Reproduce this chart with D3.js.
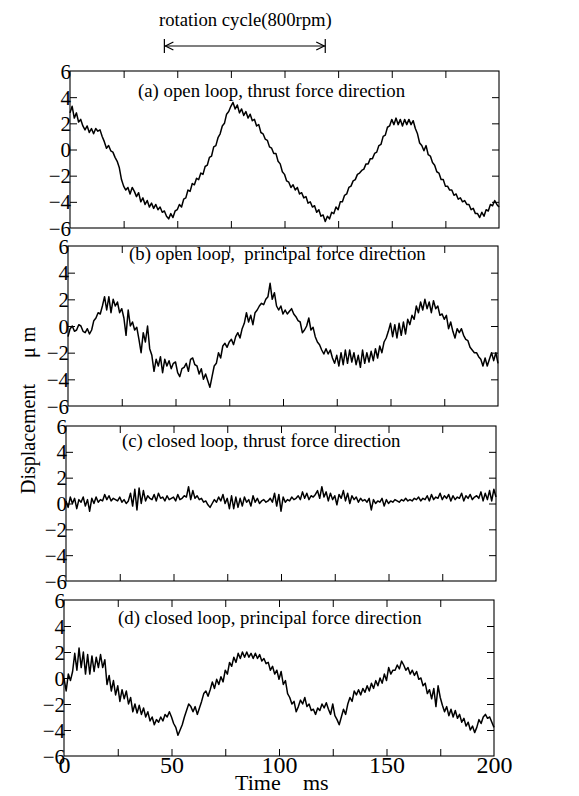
<!DOCTYPE html>
<html>
<head>
<meta charset="utf-8">
<script src="https://cdn.jsdelivr.net/npm/d3@7"></script>
<style>
  body { margin: 0; background: #fff; }
  svg { font-family: "Liberation Serif", "Times New Roman", serif; }
</style>
</head>
<body>
<div class="mainChart"></div>
<script>
// displacement samples, one per ms (0..200 ms), in micrometres
const openThrust = [
  2.8,3.3,2.4,2.8,2.1,2.3,1.8,1.5,1.8,1.3,1.6,1.2,1.6,1.4,1.5,1.0,0.6,0.1,0.3,-0.1,
  -0.2,-0.6,-0.9,-1.4,-2.3,-2.8,-3.1,-2.9,-3.4,-2.9,-3.2,-3.6,-3.3,-4.0,-3.7,-4.2,-3.9,-4.4,-4.1,-4.5,
  -4.2,-4.6,-4.4,-4.8,-4.7,-5.1,-5.3,-4.9,-5.2,-4.7,-4.6,-4.2,-4.4,-3.8,-3.7,-3.1,-3.2,-2.6,-2.7,-2.2,
  -2.3,-1.8,-1.9,-1.3,-1.2,-0.6,-0.5,0.2,0.3,0.9,1.2,1.8,2.0,2.7,2.9,3.3,3.6,3.1,3.4,2.8,
  3.1,2.6,2.9,2.4,2.7,2.2,2.3,1.8,1.9,1.3,1.2,0.8,0.7,0.2,0.1,-0.3,-0.3,-0.9,-1.1,-1.7,
  -1.9,-2.4,-2.5,-2.9,-2.7,-3.1,-2.9,-3.4,-3.3,-3.7,-3.6,-4.1,-4.0,-4.4,-4.3,-4.8,-4.6,-5.1,-5.0,-5.5,
  -5.1,-5.3,-4.8,-4.9,-4.4,-4.6,-4.0,-4.0,-3.5,-3.4,-2.9,-2.8,-2.4,-2.3,-1.9,-1.8,-1.6,-1.5,-1.1,-1.1,
  -0.7,-0.7,-0.3,-0.2,0.3,0.4,1.0,1.1,1.7,1.8,2.3,1.9,2.4,1.9,2.3,1.8,2.3,1.9,2.3,1.9,
  2.2,1.6,1.2,0.5,0.3,-0.1,0.3,-0.4,-0.5,-1.0,-1.2,-1.7,-1.8,-2.3,-2.3,-2.8,-2.8,-3.1,-3.1,-3.5,
  -3.4,-3.8,-3.7,-4.0,-3.9,-4.2,-4.2,-4.6,-4.5,-4.9,-4.9,-5.2,-4.8,-5.1,-4.6,-4.7,-4.2,-4.3,-3.9,-4.2,-4.4
];
const openPrincipal = [
  -0.8,-0.2,0.0,-0.4,-0.3,0.1,0.0,-0.4,-0.5,-0.2,-0.6,-0.3,0.4,0.6,1.0,0.9,1.5,2.2,1.2,2.2,
  1.0,2.0,1.5,1.8,1.0,1.3,0.6,-0.7,1.2,0.0,0.3,-0.3,-0.1,-1.0,-2.0,-0.5,-1.2,0.0,-1.7,-2.2,
  -3.4,-2.5,-3.0,-2.3,-3.5,-2.5,-3.0,-2.6,-3.2,-2.8,-2.7,-3.5,-3.8,-3.2,-3.1,-2.8,-3.4,-2.5,-2.4,-2.9,
  -3.0,-3.6,-3.2,-4.0,-3.6,-4.1,-4.6,-3.8,-3.0,-2.8,-2.0,-2.4,-1.5,-1.3,-1.6,-1.2,-1.0,-1.4,-0.8,-0.5,
  -0.9,-0.2,0.2,1.0,0.3,0.8,0.1,1.0,1.2,1.5,1.7,1.6,2.0,2.2,3.2,2.0,2.5,1.5,1.2,1.5,
  0.9,1.2,0.9,1.1,1.3,0.9,0.7,0.4,0.3,-0.5,-0.3,0.0,0.6,-0.3,-0.1,-0.8,-1.2,-1.4,-1.8,-2.1,
  -1.7,-2.1,-1.8,-2.4,-2.8,-2.2,-3.0,-2.0,-2.9,-1.8,-2.8,-1.8,-2.7,-2.0,-2.9,-2.2,-3.1,-1.8,-2.8,-2.0,
  -2.7,-1.9,-2.6,-1.7,-2.4,-1.5,-2.0,-1.2,-0.9,-0.4,0.2,-0.8,0.1,-0.9,0.2,-0.7,0.3,-0.6,0.5,0.1,
  0.8,0.5,1.5,1.0,1.8,1.2,2.0,1.3,1.8,1.0,1.9,1.3,1.5,0.8,0.9,0.5,0.8,-0.2,0.3,-0.4,
  -0.9,-0.2,-0.5,-0.2,-0.7,-1.0,-1.1,-1.6,-1.8,-2.0,-2.0,-2.3,-2.5,-3.0,-2.4,-3.0,-2.5,-2.0,-2.6,-2.0,-2.8
];
const closedThrust = [
  0.2,-0.3,0.5,0.0,0.4,-0.4,0.3,0.1,0.5,-0.2,0.3,-0.6,0.4,0.0,0.5,0.1,0.3,0.2,0.7,0.3,
  0.6,0.2,0.4,0.3,0.2,0.5,0.1,0.3,0.0,0.2,0.8,-0.2,1.1,-0.5,1.2,0.0,1.0,0.2,0.6,0.4,
  0.3,0.7,0.2,0.8,0.4,0.5,0.2,0.6,0.3,0.4,0.5,0.2,0.7,0.3,0.4,0.6,0.5,1.3,0.3,1.0,
  0.4,0.6,0.3,0.4,0.1,0.2,-0.1,-0.3,0.0,0.3,0.1,0.5,0.2,0.7,0.0,0.4,-0.4,0.6,-0.4,0.5,
  -0.3,0.4,-0.2,0.5,0.1,0.3,-0.2,0.6,0.1,0.4,0.0,0.2,0.3,0.1,0.2,0.4,0.1,0.8,-0.2,0.7,
  -0.6,0.5,0.1,0.3,0.2,0.5,0.3,0.4,0.6,0.3,0.9,0.4,0.8,0.3,0.6,0.5,0.7,1.0,0.4,1.3,
  0.5,0.9,0.2,0.8,0.3,0.6,-0.1,0.7,0.4,1.0,0.2,0.8,0.0,0.6,0.3,0.5,0.1,0.4,0.2,0.3,
  0.1,0.4,-0.5,0.3,0.0,0.2,0.1,0.4,-0.2,0.3,0.0,0.2,0.1,0.3,0.2,0.1,0.3,0.2,0.4,0.2,
  0.3,0.2,0.4,0.3,0.5,0.2,0.4,0.3,0.6,0.2,0.7,0.3,0.5,0.4,0.8,0.3,0.6,0.4,0.7,0.2,
  0.6,0.3,0.5,0.4,0.8,0.2,0.6,0.4,0.7,0.3,0.5,0.6,0.4,0.9,0.2,0.8,0.3,1.0,0.2,1.1,0.5
];
const closedPrincipal = [
  0.0,-1.0,0.3,-0.2,0.5,1.9,0.6,2.3,0.8,2.0,0.3,1.8,0.3,1.7,0.5,1.6,0.8,1.8,0.8,1.4,
  -0.5,0.2,-1.0,-0.2,-1.3,-0.6,-1.8,-0.9,-1.6,-1.0,-2.0,-1.5,-2.6,-2.0,-2.7,-2.1,-2.8,-2.3,-3.0,-2.6,
  -3.3,-3.0,-3.6,-3.2,-3.4,-3.0,-3.3,-2.8,-3.0,-2.6,-3.0,-3.5,-3.8,-4.4,-4.0,-3.6,-3.0,-2.5,-2.0,-2.2,
  -2.6,-2.2,-2.8,-2.3,-1.8,-1.2,-1.0,-1.4,-0.9,-0.3,-0.8,-0.1,-0.5,0.1,-0.3,0.6,0.3,1.2,0.9,1.6,
  1.2,1.9,1.5,2.0,1.6,2.0,1.6,1.9,1.5,1.9,1.5,1.8,1.3,1.5,1.1,1.2,0.6,0.9,0.3,0.6,
  -0.1,0.5,-0.5,-0.2,-1.2,-1.5,-2.0,-1.8,-2.6,-2.2,-1.7,-2.0,-1.5,-2.2,-2.0,-2.5,-2.4,-2.8,-2.3,-2.5,
  -2.0,-2.3,-1.9,-2.4,-2.8,-2.0,-2.9,-3.2,-3.6,-3.0,-2.4,-2.8,-2.0,-1.5,-1.8,-1.0,-1.3,-0.9,-1.3,-0.8,
  -1.1,-0.6,-1.0,-0.4,-0.8,-0.2,-0.6,0.0,-0.4,0.3,-0.2,0.8,0.3,0.6,0.6,1.0,0.7,1.3,1.0,0.6,
  0.8,0.3,0.6,0.2,0.5,-0.1,0.0,-0.6,-0.4,-1.2,-0.9,-1.6,-0.8,-2.2,-0.6,-1.5,-2.1,-2.6,-2.2,-2.9,
  -2.4,-3.0,-2.5,-3.1,-2.8,-3.4,-3.1,-3.7,-3.4,-4.0,-3.7,-4.2,-3.8,-3.2,-3.5,-3.0,-2.8,-3.1,-3.0,-3.4,-3.8
];
const panelTitles = [
  "(a) open loop, thrust force direction",
  "(b) open loop,  principal force direction",
  "(c) closed loop, thrust force direction",
  "(d) closed loop, principal force direction"
];
const series = [openThrust, openPrincipal, closedThrust, closedPrincipal];
const sampleMs = 1;
const timeDomain = [0, 200];
const dispDomain = [-6, 6];
const yLabelTicks = [-6, -4, -2, 0, 2, 4, 6];
const yMarkTicks = [-4, -2, 0, 2, 4];
const xMarkTicks = [25, 50, 75, 100, 125, 150, 175];
const xLabelTicks = [0, 50, 100, 150, 200];
const rotationCycle = [44, 119]; // one turn at 800 rpm = 75 ms

// panel boxes (the scan is a little skewed, so each panel is shifted a bit)
const boxes = [
  {top: 71, bottom: 228, left: 70, right: 499, titleX: 138, titleY: 97},
  {top: 246, bottom: 406, left: 68, right: 498, titleX: 129, titleY: 260},
  {top: 426, bottom: 581, left: 66, right: 496, titleX: 122, titleY: 447},
  {top: 600, bottom: 756, left: 64, right: 494, titleX: 118, titleY: 624}
];

const width = 579, height = 796;
const svg = d3.select('.mainChart').append('svg')
  .attr('width', width)
  .attr('height', height);

let firstX;

boxes.forEach(function(b, i) {
  const x = d3.scaleLinear().domain(timeDomain).range([b.left, b.right]);
  const y = d3.scaleLinear().domain(dispDomain).range([b.bottom, b.top]);
  if (i === 0) firstX = x;

  const g = svg.append('g');

  // frame
  g.append('rect')
    .attr('x', b.left).attr('y', b.top)
    .attr('width', b.right - b.left).attr('height', b.bottom - b.top)
    .attr('fill', 'none').attr('stroke', '#000').attr('stroke-width', 1.1);

  // inward tick marks on all four sides
  const tickLen = -7;
  g.append('g').attr('transform', 'translate(0,' + b.bottom + ')')
    .call(d3.axisBottom(x).tickValues(xMarkTicks).tickSize(tickLen).tickFormat(''));
  g.append('g').attr('transform', 'translate(0,' + b.top + ')')
    .call(d3.axisTop(x).tickValues(xMarkTicks).tickSize(tickLen).tickFormat(''));
  g.append('g').attr('transform', 'translate(' + b.left + ',0)')
    .call(d3.axisLeft(y).tickValues(yMarkTicks).tickSize(tickLen).tickFormat(''));
  g.append('g').attr('transform', 'translate(' + b.right + ',0)')
    .call(d3.axisRight(y).tickValues(yMarkTicks).tickSize(tickLen).tickFormat(''));

  // y tick labels
  g.append('g').attr('class', 'ylab').attr('transform', 'translate(' + (b.left + 1) + ',0)')
    .call(d3.axisLeft(y).tickValues(yLabelTicks).tickSize(0).tickPadding(0).tickFormat(d3.format('d')))
    .selectAll('text').attr('font-size', 21).attr('dy', '0.34em');

  // x tick labels only under the last panel
  if (i === boxes.length - 1) {
    g.append('g').attr('class', 'xlab').attr('transform', 'translate(0,' + b.bottom + ')')
      .call(d3.axisBottom(x).tickValues(xLabelTicks).tickSize(0).tickPadding(0))
      .selectAll('text').attr('font-size', 24);
  }

  g.selectAll('.domain').remove();
  g.selectAll('.tick line').attr('stroke', '#000').attr('stroke-width', 1);
  g.selectAll('.tick text').attr('fill', '#000').attr('font-family', '"Liberation Serif", "Times New Roman", serif');

  // signal
  const line = d3.line()
    .x(function(d, k) { return x(k * sampleMs); })
    .y(function(d) { return y(d); });
  g.append('path')
    .datum(series[i])
    .attr('d', line)
    .attr('fill', 'none')
    .attr('stroke', '#000')
    .attr('stroke-width', 1.5)
    .attr('stroke-linejoin', 'round');

  // title
  g.append('text')
    .attr('x', b.titleX).attr('y', b.titleY)
    .attr('font-size', 18.8)
    .attr('xml:space', 'preserve')
    .style('white-space', 'pre')
    .text(panelTitles[i]);
});

// rotation cycle annotation
const ax0 = firstX(rotationCycle[0]), ax1 = firstX(rotationCycle[1]);
const ay = 46;
svg.append('text')
  .attr('x', 159).attr('y', 26)
  .attr('font-size', 18.7)
  .text('rotation cycle(800rpm)');
const ann = svg.append('g').attr('stroke', '#000').attr('stroke-width', 1.2).attr('fill', 'none');
ann.append('line').attr('x1', ax0).attr('x2', ax1).attr('y1', ay).attr('y2', ay);
ann.append('line').attr('x1', ax0).attr('x2', ax0).attr('y1', ay - 7).attr('y2', ay + 7);
ann.append('line').attr('x1', ax1).attr('x2', ax1).attr('y1', ay - 7).attr('y2', ay + 7);
ann.append('path').attr('d', 'M' + (ax0 + 9) + ',' + (ay - 4) + 'L' + (ax0 + 1) + ',' + ay + 'L' + (ax0 + 9) + ',' + (ay + 4));
ann.append('path').attr('d', 'M' + (ax1 - 9) + ',' + (ay - 4) + 'L' + (ax1 - 1) + ',' + ay + 'L' + (ax1 - 9) + ',' + (ay + 4));

// axis titles
svg.append('text')
  .attr('transform', 'translate(35,494) rotate(-90)')
  .attr('font-size', 20)
  .text('Displacement');
svg.append('text')
  .attr('transform', 'translate(35,358) rotate(-90)')
  .attr('font-size', 20)
  .text('\u03bc m');
svg.append('text')
  .attr('x', 235).attr('y', 790)
  .attr('font-size', 22)
  .text('Time');
svg.append('text')
  .attr('x', 303).attr('y', 790)
  .attr('font-size', 22)
  .text('ms');
</script>
</body>
</html>
